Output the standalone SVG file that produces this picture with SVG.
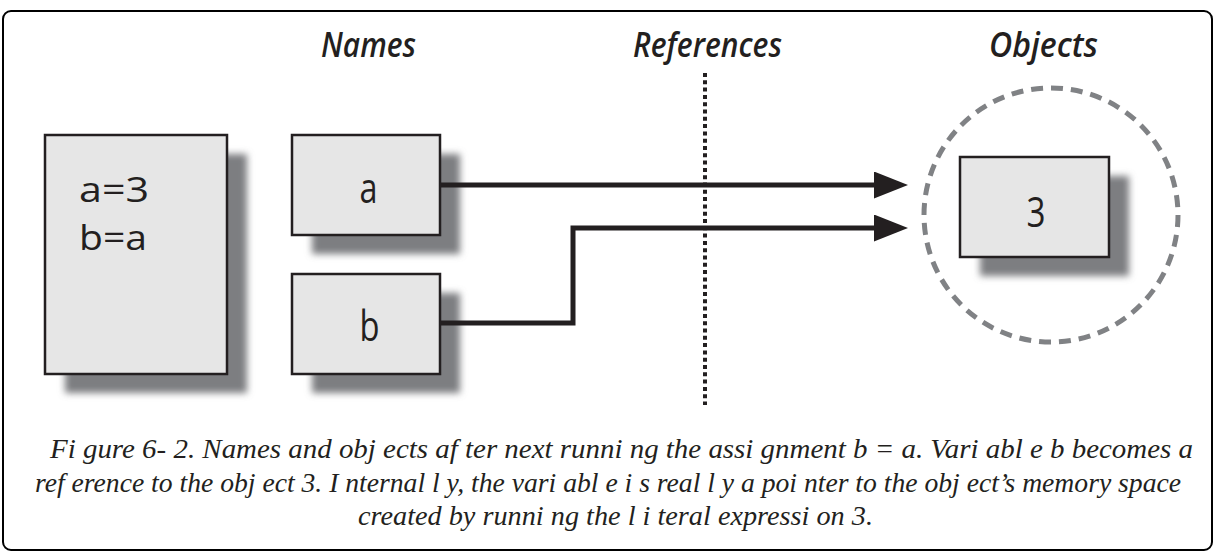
<svg xmlns="http://www.w3.org/2000/svg" width="1215" height="553" viewBox="0 0 1215 553">
<style>
.box{fill:#e6e6e6;stroke:#231f20;stroke-width:2.5}
.shadow{fill:#7d7e81;filter:url(#blur)}
.head{font-family:"Open Sans","DejaVu Sans",sans-serif;font-style:italic;font-weight:600;font-size:34px;fill:#231f20}
.lbl{font-family:"Open Sans","DejaVu Sans",sans-serif;font-size:42px;fill:#231f20;text-anchor:middle}
.code{font-family:"Open Sans","DejaVu Sans",sans-serif;font-size:34px;fill:#231f20}
.wire{fill:none;stroke:#231f20;stroke-width:5;stroke-linejoin:miter}
.cap{font-family:"Liberation Serif","Times New Roman",serif;font-style:italic;font-size:28px;fill:#231f20}
</style>
<defs>
<filter id="blur" x="-20%" y="-20%" width="140%" height="140%"><feGaussianBlur stdDeviation="3.5"/></filter>
<marker id="arrow" markerUnits="userSpaceOnUse" markerWidth="34" markerHeight="27" refX="2" refY="13.5" orient="auto" viewBox="0 0 34 27"><path d="M0,0 L34,13.5 L0,27 Z" fill="#231f20"/></marker>
</defs>
<rect x="3" y="11" width="1209" height="539" rx="8" fill="#fff" stroke="#000" stroke-width="2"/>
<g id="headings">
<text class="head" x="321" y="57" textLength="95" lengthAdjust="spacingAndGlyphs">Names</text>
<text class="head" x="633" y="57" textLength="149" lengthAdjust="spacingAndGlyphs">References</text>
<text class="head" x="989" y="57" textLength="109" lengthAdjust="spacingAndGlyphs">Objects</text>
</g>
<g id="separator">
<line x1="705" y1="73" x2="705" y2="405" stroke="#231f20" stroke-width="4" stroke-dasharray="4 3.3"/>
</g>
<g id="objects-area">
<circle cx="1051" cy="215" r="127" fill="none" stroke="#808285" stroke-width="5" pathLength="800" stroke-dasharray="12 8"/>
</g>
<g id="code">
<rect class="shadow" x="65" y="154" width="182" height="239"/>
<rect class="box" x="45" y="135" width="182" height="239"/>
<text class="code" x="79" y="202" textLength="70" lengthAdjust="spacingAndGlyphs">a=3</text>
<text class="code" x="79" y="250" textLength="68" lengthAdjust="spacingAndGlyphs">b=a</text>
</g>
<g id="name-a">
<rect class="shadow" x="312" y="154" width="148" height="100"/>
<rect class="box" x="292" y="135" width="148" height="100"/>
<text class="lbl" x="368.5" y="203" textLength="18" lengthAdjust="spacingAndGlyphs">a</text>
</g>
<g id="name-b">
<rect class="shadow" x="312" y="293" width="148" height="100"/>
<rect class="box" x="292" y="274" width="148" height="100"/>
<text class="lbl" x="369.5" y="341" textLength="20" lengthAdjust="spacingAndGlyphs">b</text>
</g>
<g id="object-3">
<rect class="shadow" x="980" y="176" width="149" height="100"/>
<rect class="box" x="960" y="157" width="149" height="100"/>
<text class="lbl" x="1036" y="227" textLength="19" lengthAdjust="spacingAndGlyphs">3</text>
</g>
<g id="connectors">
<path class="wire" d="M440,185 H876" marker-end="url(#arrow)"/>
<path class="wire" d="M440,323 H573 V228 H876" marker-end="url(#arrow)"/>
</g>
<g id="caption">
<text class="cap" x="50" y="458" textLength="1143" lengthAdjust="spacingAndGlyphs">Fi gure 6- 2.  Names and obj ects af ter next runni ng the assi gnment b = a. Vari abl e b becomes a</text>
<text class="cap" x="35" y="492" textLength="1146" lengthAdjust="spacingAndGlyphs">ref erence to the obj ect 3.  I nternal l y, the vari abl e i s real l y a poi nter to the obj ect’s memory space</text>
<text class="cap" x="358" y="525" textLength="515" lengthAdjust="spacingAndGlyphs">created by runni ng the l i teral  expressi on 3.</text>
</g>
</svg>
